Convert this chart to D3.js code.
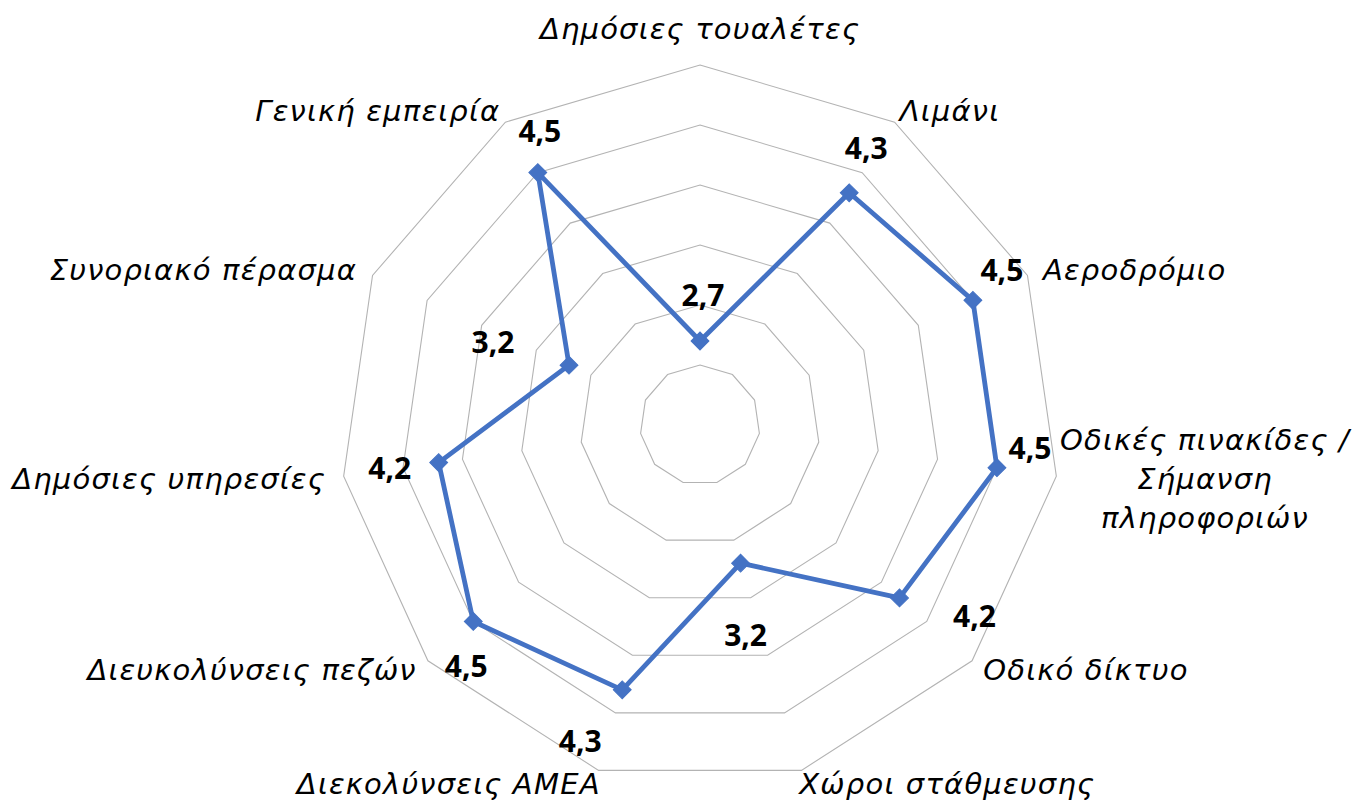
<!DOCTYPE html>
<html>
<head>
<meta charset="utf-8">
<script src="https://cdn.jsdelivr.net/npm/d3@7"></script>
<style>
  html, body { margin: 0; padding: 0; background: #fff; }
  svg { display: block; }
</style>
</head>
<body>
<svg id="chart" width="1358" height="802"></svg>
<script>
// categories clockwise from the top ("\n" = forced line break)
const categories = [
  "Δημόσιες τουαλέτες",
  "Λιμάνι",
  "Αεροδρόμιο",
  "Οδικές πινακίδες /\nΣήμανση\nπληροφοριών",
  "Οδικό δίκτυο",
  "Χώροι στάθμευσης",
  "Διεκολύνσεις ΑΜΕΑ",
  "Διευκολύνσεις πεζών",
  "Δημόσιες υπηρεσίες",
  "Συνοριακό πέρασμα",
  "Γενική εμπειρία"
];
const scores = [2.7, 4.3, 4.5, 4.5, 4.2, 3.2, 4.3, 4.5, 4.2, 3.2, 4.5];
const ringTicks = [2.5, 3, 3.5, 4, 4.5, 5];
const axisMin = 2, axisMax = 5;

// manual nudges of the value labels (Excel had them dragged around)
const valueLabelNudge = [
  [3, -46], [17, -45], [29, -30], [33, -19], [75, 18], [5, 72],
  [-42, 51], [-7, 45], [-49, 6], [-76, -23], [2, -41]
];

const width = 1358, height = 802;
const cx = 700, cy = 425, outerR = 360;
const blue = "#4472C4";

const svg = d3.select("#chart");
const g = svg.append("g").attr("transform", `translate(${cx},${cy})`);

const n = categories.length;
const angle = d3.scaleLinear().domain([0, n]).range([0, 2 * Math.PI]);
const r = d3.scaleLinear().domain([axisMin, axisMax]).range([0, outerR]);

const fmt = d3.formatLocale({ decimal: ",", thousands: ".", grouping: [3], currency: ["", "€"] }).format(".1f");

// grid rings
const ring = d3.lineRadial()
  .angle((d, i) => angle(i))
  .radius(d => r(d))
  .curve(d3.curveLinearClosed);

g.selectAll("path.ring")
  .data(ringTicks)
  .enter()
  .append("path")
  .attr("class", "ring")
  .attr("d", t => ring(d3.range(n).map(() => t)))
  .attr("fill", "none")
  .attr("stroke", "#b3b3b3")
  .attr("stroke-width", 1.1);

// series line
const line = d3.lineRadial()
  .angle((d, i) => angle(i))
  .radius(d => r(d))
  .curve(d3.curveLinearClosed);

g.append("path")
  .datum(scores)
  .attr("d", line)
  .attr("fill", "none")
  .attr("stroke", blue)
  .attr("stroke-width", 4.8)
  .attr("stroke-linejoin", "round");

const px = (v, i) => r(v) * Math.sin(angle(i));
const py = (v, i) => -r(v) * Math.cos(angle(i));

// markers
const diamond = d3.symbol().type(d3.symbolSquare).size(160);
g.selectAll("path.marker")
  .data(scores)
  .enter()
  .append("path")
  .attr("class", "marker")
  .attr("d", diamond)
  .attr("transform", (d, i) => `translate(${px(d, i)},${py(d, i)}) rotate(45)`)
  .attr("fill", blue)
  .attr("stroke", blue)
  .attr("stroke-width", 1);

// value labels
g.selectAll("text.value")
  .data(scores)
  .enter()
  .append("text")
  .attr("class", "value")
  .attr("x", (d, i) => px(d, i) + valueLabelNudge[i][0])
  .attr("y", (d, i) => py(d, i) + valueLabelNudge[i][1])
  .attr("dy", "0.36em")
  .attr("text-anchor", "middle")
  .style("font-family", "'Open Sans', sans-serif")
  .style("font-weight", "bold")
  .style("font-size", "30px")
  .style("fill", "#000")
  .text(d => fmt(d));

// category labels
const lineH = 39;
categories.forEach((name, i) => {
  const a = angle(i);
  const s = Math.sin(a), c = Math.cos(a);
  const vx = outerR * s, vy = -outerR * c;
  const lines = name.split("\n");

  const t = g.append("text")
    .style("font-family", "'DejaVu Sans', sans-serif")
    .style("font-style", "italic")
    .style("font-size", "29px")
    .style("letter-spacing", "1.2px")
    .style("fill", "#000")
    .attr("text-anchor", "middle");

  const spans = lines.map(l => t.append("tspan").text(l));
  const w = d3.max(spans, sp => sp.node().getComputedTextLength());

  let left, midY;
  if (Math.abs(s) < 0.2) {
    left = vx - w / 2;
    midY = vy - c * (lines.length * lineH / 2 + 17);
  } else {
    const dx = Math.sign(s) * (28 * Math.abs(s) - 10);
    left = s > 0 ? vx + dx : vx + dx - w;
    midY = vy - c * 14;
  }
  // keep labels inside the picture
  left = Math.max(-cx + 8, Math.min(left, width - cx - w - 8));
  spans.forEach((sp, k) => {
    sp.attr("x", left + w / 2)
      .attr("y", midY + (k - (lines.length - 1) / 2) * lineH)
      .attr("dy", "0.36em");
  });
});
</script>
</body>
</html>
